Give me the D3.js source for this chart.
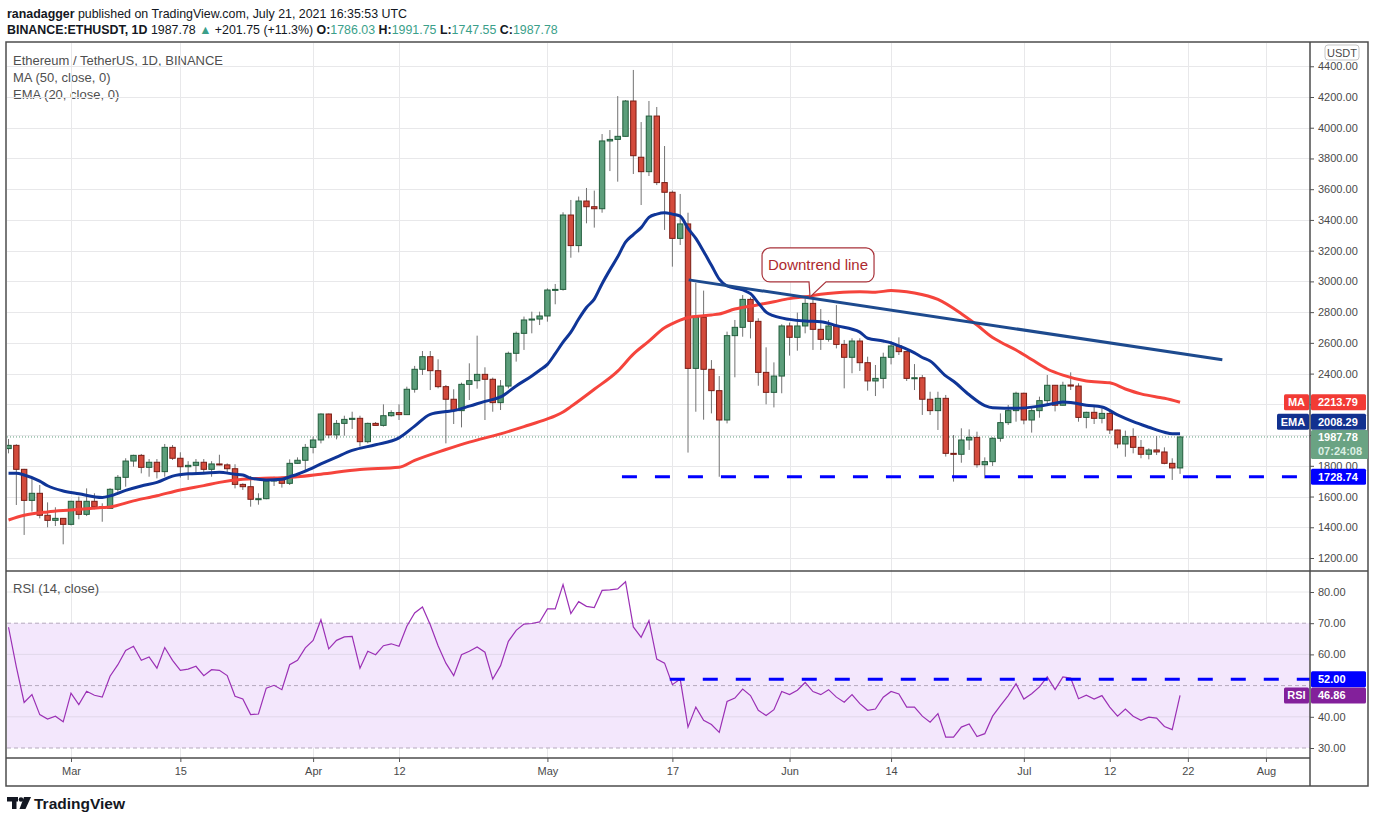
<!DOCTYPE html>
<html>
<head>
<meta charset="utf-8">
<script src="https://cdn.jsdelivr.net/npm/d3@7"></script>
<style>
  body { margin: 0; background: #fff; }
  svg { display: block; font-family: "Liberation Sans", Arial, sans-serif; }
</style>
</head>
<body>
<svg id="chart" width="1376" height="823"></svg>
<script>
// ---- dati (ETH/USDT 1D, 21 feb - 21 lug 2021) ----
const startDay = "2021-02-21";

const opens = [1912,1933,1777,1575,1621,1478,1445,1458,
  1419,1569,1484,1569,1534,1523,1647,1725,1831,1868,1790,1823,1762,1920,1849,1794,1803,1823,1777,1812,1806,1781,1679,1664,1582,1586,1701,1712,1686,1816,1836,
  1920,1968,2137,2001,2076,2102,2109,1957,2076,2063,2126,2146,2133,2298,2428,2510,2419,2315,2233,2159,2330,2354,2395,2363,2211,2319,2532,2662,2749,2755,
  2775,2944,2948,3432,3233,3523,3486,3473,3914,3924,3944,4174,3808,3714,4076,3643,3580,3280,3374,2434,2766,2428,2289,2098,2647,2701,2883,2740,2408,2278,2384,
  2710,2636,2710,2857,2688,2623,2710,2590,2506,2612,2471,2352,2369,2506,2580,2543,2369,2373,2233,2159,2239,1881,1875,1968,1985,1807,1827,1979,2081,2159,
  2272,2098,2159,2224,2324,2194,2326,2319,2115,2148,2109,2141,2033,1942,1990,1920,1875,1903,1890,1816,1786.03];

const highs = [1974,1940,1780,1714,1675,1562,1530,1460,
  1572,1599,1653,1621,1556,1655,1740,1849,1872,1877,1844,1844,1942,1935,1888,1830,1844,1844,1830,1872,1816,1810,1686,1734,1621,1725,1729,1729,1842,1855,1942,
  1990,2141,2140,2098,2126,2152,2126,2081,2085,2200,2161,2200,2315,2450,2547,2547,2493,2326,2298,2341,2467,2647,2441,2374,2358,2543,2673,2771,2803,2803,
  2955,2983,3450,3530,3552,3608,3591,3959,3985,4206,4180,4376,4037,4174,4135,3881,3591,3569,3447,2990,2940,2488,2384,2673,2749,2911,2896,2760,2571,2473,2721,
  2732,2797,2890,2890,2820,2749,2846,2619,2630,2630,2510,2456,2536,2612,2636,2545,2462,2391,2282,2282,2261,2000,2044,2037,2022,1855,1985,2141,2196,2282,
  2276,2185,2250,2391,2326,2347,2408,2337,2152,2196,2174,2163,2035,2029,2044,1968,1914,1994,1920,1849,1991.75];

const lows = [1881,1545,1350,1502,1458,1400,1408,1289,
  1412,1452,1473,1517,1436,1520,1632,1664,1794,1751,1729,1718,1729,1838,1723,1708,1740,1751,1729,1803,1751,1653,1643,1534,1547,1582,1669,1658,1675,1812,1762,
  1881,1946,1979,1972,1996,2040,1925,1946,2063,2055,2120,2098,2133,2276,2391,2293,2304,1946,2072,2050,2228,2302,2098,2152,2163,2304,2478,2554,2662,2716,
  2738,2851,2940,3154,3189,3378,3350,3447,3718,3649,3942,3699,3497,3686,3627,3335,3096,3237,1886,2152,2100,2141,1728.74,2076,2376,2640,2629,2321,2200,2180,2272,
  2517,2549,2662,2554,2554,2608,2564,2304,2402,2417,2289,2254,2304,2460,2521,2352,2293,2131,2131,2033,1860,1697,1820,1903,1788,1718,1799,1957,2066,2087,
  2070,2016,2113,2189,2154,2192,2293,2087,2044,2072,2076,2007,1914,1859,1881,1849,1842,1870,1810,1708,1747.55];

const closes = [1933,1777,1575,1621,1478,1445,1458,1419,
  1569,1484,1569,1534,1523,1647,1725,1831,1868,1790,1823,1762,1920,1849,1794,1803,1823,1777,1812,1806,1781,1679,1664,1582,1586,1701,1712,1686,1816,1836,1920,
  1968,2137,2001,2076,2102,2109,1957,2076,2063,2126,2146,2133,2298,2428,2510,2419,2315,2233,2159,2330,2354,2395,2363,2211,2319,2532,2662,2749,2755,2775,
  2944,2948,3432,3233,3523,3486,3473,3914,3924,3944,4174,3818,3714,4076,3643,3580,3280,3374,2434,2766,2428,2289,2098,2647,2701,2883,2740,2408,2278,2384,2710,
  2636,2710,2857,2688,2623,2710,2590,2506,2612,2471,2352,2369,2506,2580,2543,2369,2373,2233,2159,2239,1881,1875,1968,1985,1807,1827,1979,2081,2159,2272,
  2098,2159,2224,2324,2194,2324,2319,2115,2148,2109,2141,2033,1942,1990,1920,1875,1903,1890,1816,1786.03,1987.78];

const rsiValues = [68.7,56,44.6,47.1,40.7,39.3,40.2,38.4,
  47.6,43.9,48.2,46.9,46.3,53,56.7,61.3,62.6,58.1,59.2,55.6,62.2,58.1,54.9,55.3,56.2,53.2,55.1,54.9,53.2,46.6,45.7,40.7,40.9,49.2,50.1,48.7,56.7,58.1,62.1,
  64.5,71.1,61.8,64.5,65.6,65.8,55.6,61,59.9,62.8,63.4,62.6,69,73.3,75.2,69.5,62.8,57.2,53.2,59.9,61,62.4,60.7,52.1,56.4,64.2,67.7,69.7,69.9,70.4,
  74.6,74.6,82.4,73.1,76.9,75.4,75,80.5,80.7,81,83.3,68.8,65.5,70.8,58.5,57.2,50.3,52.1,36.7,43.1,38.9,37.5,35,44.9,46,48.9,46.8,42.1,40.4,42.3,48.1,
  47.1,48.5,51,48.1,47.1,48.7,46.3,44.7,47.1,44.2,42.1,42.5,46.3,48.1,47.3,43.1,43.1,40.2,38.3,41,33.5,33.5,36.7,37.7,33.7,34.6,40.2,43.6,46.8,50.6,
  45.7,47.4,49.6,52.8,48.7,52.8,52.4,45.8,46.9,45.7,46.8,43.1,40.2,42.5,40.2,38.9,39.9,39.6,36.9,35.9,46.86];

const emaPoints = [["2021-02-21",1751],["2021-02-22",1751],["2021-02-23",1740],["2021-02-25",1700],["2021-02-26",1670],
  ["2021-02-28",1636],["2021-03-02",1618],["2021-03-05",1594],["2021-03-06",1604],["2021-03-08",1640],["2021-03-10",1669],
  ["2021-03-12",1692],["2021-03-14",1733],["2021-03-16",1748],["2021-03-18",1752],["2021-03-20",1758],["2021-03-22",1745],
  ["2021-03-23",1740],["2021-03-24",1720],["2021-03-26",1708],["2021-03-28",1712],["2021-03-29",1729],["2021-03-30",1745],
  ["2021-03-31",1765],["2021-04-02",1812],["2021-04-04",1857],["2021-04-06",1900],["2021-04-09",1937],["2021-04-12",1982],
  ["2021-04-14",2058],["2021-04-16",2135],["2021-04-18",2153],["2021-04-19",2159],["2021-04-21",2188],["2021-04-23",2219],
  ["2021-04-25",2248],["2021-04-27",2320],["2021-04-29",2385],["2021-04-30",2422],["2021-05-01",2460],["2021-05-02",2530],
  ["2021-05-03",2605],["2021-05-04",2670],["2021-05-05",2755],["2021-05-06",2830],["2021-05-07",2885],["2021-05-08",2985],
  ["2021-05-09",3075],["2021-05-10",3160],["2021-05-11",3255],["2021-05-12",3305],["2021-05-13",3350],["2021-05-14",3417],
  ["2021-05-15",3438],["2021-05-16",3447],["2021-05-17",3438],["2021-05-18",3425],["2021-05-19",3345],["2021-05-20",3280],
  ["2021-05-21",3195],["2021-05-22",3105],["2021-05-23",3015],["2021-05-24",2970],["2021-05-26",2945],["2021-05-27",2920],
  ["2021-05-28",2860],["2021-05-29",2800],["2021-05-30",2775],["2021-06-01",2753],["2021-06-03",2742],["2021-06-05",2738],
  ["2021-06-07",2712],["2021-06-10",2670],["2021-06-11",2630],["2021-06-13",2612],["2021-06-14",2600],["2021-06-15",2580],
  ["2021-06-16",2560],["2021-06-17",2535],["2021-06-18",2505],["2021-06-19",2482],["2021-06-21",2385],["2021-06-22",2350],
  ["2021-06-24",2262],["2021-06-26",2192],["2021-06-27",2178],["2021-06-30",2174],["2021-07-03",2189],["2021-07-05",2207],
  ["2021-07-06",2215],["2021-07-07",2212],["2021-07-09",2194],["2021-07-11",2183],["2021-07-13",2131],["2021-07-15",2087],
  ["2021-07-17",2051],["2021-07-19",2018],["2021-07-20",2008],["2021-07-21",2008.29]];

const maPoints = [["2021-02-21",1447],["2021-02-23",1478],["2021-02-26",1500],["2021-03-01",1512],["2021-03-05",1528],
  ["2021-03-06",1532],["2021-03-09",1572],["2021-03-12",1605],["2021-03-15",1643],["2021-03-18",1671],["2021-03-20",1692],
  ["2021-03-23",1712],["2021-03-25",1718],["2021-03-28",1723],["2021-03-30",1728],["2021-04-02",1745],["2021-04-07",1776],
  ["2021-04-12",1790],["2021-04-14",1835],["2021-04-18",1906],["2021-04-21",1954],["2021-04-25",2008],["2021-04-28",2055],
  ["2021-05-01",2105],["2021-05-02",2125],["2021-05-03",2150],["2021-05-04",2185],["2021-05-07",2298],["2021-05-10",2416],
  ["2021-05-12",2527],["2021-05-14",2611],["2021-05-16",2698],["2021-05-17",2725],["2021-05-18",2748],["2021-05-19",2765],
  ["2021-05-21",2776],["2021-05-22",2782],["2021-05-23",2788],["2021-05-25",2820],["2021-05-28",2848],["2021-05-30",2868],
  ["2021-06-01",2888],["2021-06-03",2900],["2021-06-05",2916],["2021-06-07",2926],["2021-06-10",2933],["2021-06-12",2930],
  ["2021-06-14",2940],["2021-06-15",2938],["2021-06-17",2925],["2021-06-20",2883],["2021-06-23",2790],["2021-06-25",2716],
  ["2021-06-27",2635],["2021-06-28",2606],["2021-06-30",2554],["2021-07-02",2492],["2021-07-04",2430],["2021-07-06",2390],
  ["2021-07-09",2352],["2021-07-12",2340],["2021-07-14",2300],["2021-07-16",2268],["2021-07-18",2248],["2021-07-19",2240],
  ["2021-07-21",2213.79]];

const trendPoints = [["2021-05-19T02:00Z",3010],["2021-07-26T10:00Z",2490]];
const supportLevel = 1728.74, supportStart = "2021-05-10T13:00Z";
const rsiLevel = 52, rsiLevelStart = "2021-05-16T16:00Z";
const calloutAt = ["2021-06-03T15:00Z", 2899];

const priceTicks = [1200,1400,1600,1800,2000,2200,2400,2600,2800,3000,3200,3400,3600,3800,4000,4200,4400];
const rsiTicks = [30,40,60,70,80];
const timeTicks = ["2021-03-01","2021-03-15","2021-04-01","2021-04-12","2021-05-01","2021-05-17",
  "2021-06-01","2021-06-14","2021-07-01","2021-07-12","2021-07-22","2021-08-01"];
const timeLabels = ["Mar","15","Apr","12","May","17","Jun","14","Jul","12","22","Aug"];

// ---- geometria ----
const W = 1376, H = 823;
const left = 7, right = 1310;
const mainTop = 43, mainBottom = 571, rsiBottom = 758;
const dayMs = 864e5;

const parseDay = d3.utcParse("%Y-%m-%d");
const t = s => s.length > 10 ? d3.isoParse(s) : parseDay(s);
const mar1 = parseDay("2021-03-01");

const x = d3.scaleUtc()
  .domain([new Date(+mar1 - 8.195 * dayMs), new Date(+mar1 + 158.64 * dayMs)])
  .range([left, right]);
const y = d3.scaleLinear().domain([1200, 4200]).range([558, 97]);
const yR = d3.scaleLinear().domain([30, 80]).range([748, 592]);

const days = d3.utcDay.range(parseDay(startDay), d3.utcDay.offset(parseDay(startDay), closes.length));
const candles = days.map((d, i) => ({ date: d, o: opens[i], h: highs[i], l: lows[i], c: closes[i] }));

const svg = d3.select("#chart");
const defs = svg.append("defs");
defs.append("clipPath").attr("id", "clipMain").append("rect")
  .attr("x", left).attr("y", mainTop).attr("width", right - left).attr("height", mainBottom - mainTop - 1);
defs.append("clipPath").attr("id", "clipRsi").append("rect")
  .attr("x", left).attr("y", mainBottom + 1).attr("width", right - left).attr("height", rsiBottom - mainBottom - 1);

svg.append("rect").attr("width", W).attr("height", H).attr("fill", "#fff");

/*
* Intestazione in alto e legenda
*/
function drawHeader() {
  const h1 = svg.append("text").attr("x", 7).attr("y", 18).attr("font-size", 12.4).attr("fill", "#131722");
  h1.append("tspan").attr("font-weight", "bold").text("ranadagger");
  h1.append("tspan").text(" published on TradingView.com, July 21, 2021 16:35:53 UTC");

  const teal = "#3b9f8a";
  const h2 = svg.append("text").attr("x", 7).attr("y", 34).attr("font-size", 12.4).attr("fill", "#131722");
  h2.append("tspan").attr("font-weight", "bold").text("BINANCE:ETHUSDT, 1D");
  h2.append("tspan").text("  1987.78 ");
  h2.append("tspan").attr("fill", teal).text("▲");
  h2.append("tspan").text(" +201.75 (+11.3%) ");
  [["O:", "1786.03"], ["H:", "1991.75"], ["L:", "1747.55"], ["C:", "1987.78"]].forEach(([k, v], i) => {
    h2.append("tspan").attr("font-weight", "bold").text((i ? " " : "") + k);
    h2.append("tspan").attr("fill", teal).text(v);
  });

  const legend = ["Ethereum / TetherUS, 1D, BINANCE", "MA (50, close, 0)", "EMA (20, close, 0)"];
  legend.forEach((s, i) => {
    svg.append("text").attr("x", 13).attr("y", 65 + i * 17).attr("font-size", 13)
      .attr("fill", "#4f4f4f").text(s);
  });
}

/*
* Griglia verticale e orizzontale
*/
function drawGrid() {
  const g = svg.append("g").attr("stroke", "#e8e8ea").attr("stroke-width", 1);
  timeTicks.forEach(s => {
    const xx = Math.round(x(t(s))) + 0.5;
    g.append("line").attr("x1", xx).attr("x2", xx).attr("y1", mainTop).attr("y2", rsiBottom);
  });
  priceTicks.forEach(p => {
    const yy = Math.round(y(p)) + 0.5;
    if (yy < mainTop || yy > mainBottom) return;
    g.append("line").attr("x1", left).attr("x2", right).attr("y1", yy).attr("y2", yy);
  });
}

/*
* Pannello RSI
*/
function drawRsi() {
  const g = svg.append("g").attr("clip-path", "url(#clipRsi)");
  g.append("rect").attr("x", left).attr("width", right - left)
    .attr("y", yR(70)).attr("height", yR(30) - yR(70)).attr("fill", "#f3e7fc");
  [80, 60, 40].forEach(v => {
    g.append("line").attr("x1", left).attr("x2", right).attr("y1", yR(v)).attr("y2", yR(v))
      .attr("stroke", v === 80 ? "#e8e8ea" : "#e1d8ea");
  });
  [70, 50, 30].forEach(v => {
    g.append("line").attr("x1", left).attr("x2", right).attr("y1", yR(v)).attr("y2", yR(v))
      .attr("stroke", "#b4a9bd").attr("stroke-dasharray", "4,3");
  });

  const line = d3.line().x(d => x(d[0])).y(d => yR(d[1]));
  g.append("path").datum(days.map((d, i) => [d, rsiValues[i]]))
    .attr("d", line).attr("fill", "none").attr("stroke", "#9b30b5").attr("stroke-width", 1.2);

  g.append("line").attr("x1", x(t(rsiLevelStart))).attr("x2", right)
    .attr("y1", yR(rsiLevel)).attr("y2", yR(rsiLevel))
    .attr("stroke", "#0000ff").attr("stroke-width", 3).attr("stroke-dasharray", "15,18");

  svg.append("text").attr("x", 13).attr("y", 593).attr("font-size", 13).attr("fill", "#4f4f4f")
    .text("RSI (14, close)");
}

/*
* Candele, medie mobili, linee di tendenza
*/
function drawPrice() {
  const g = svg.append("g").attr("clip-path", "url(#clipMain)");
  const bw = 5.4;

  g.append("line").attr("x1", left).attr("x2", right)
    .attr("y1", y(closes[closes.length - 1])).attr("y2", y(closes[closes.length - 1]))
    .attr("stroke", "#5f9c7c").attr("stroke-dasharray", "1,2");

  const c = g.selectAll("g.candle").data(candles).enter().append("g").attr("class", "candle");
  c.append("line")
    .attr("x1", d => x(d.date)).attr("x2", d => x(d.date))
    .attr("y1", d => y(d.h)).attr("y2", d => y(d.l))
    .attr("stroke", "#737373").attr("stroke-width", 1);
  c.append("rect")
    .attr("x", d => x(d.date) - bw / 2).attr("width", bw)
    .attr("y", d => y(Math.max(d.o, d.c)))
    .attr("height", d => Math.max(1, Math.abs(y(d.o) - y(d.c))))
    .attr("fill", d => d.c >= d.o ? "#5c9e7b" : "#d44b3c")
    .attr("stroke", d => d.c >= d.o ? "#225d3c" : "#7a1d15")
    .attr("stroke-width", 1);

  const curve = d3.line().x(d => x(t(d[0]))).y(d => y(d[1])).curve(d3.curveMonotoneX);
  g.append("path").datum(maPoints).attr("d", curve)
    .attr("fill", "none").attr("stroke", "#f5443c").attr("stroke-width", 3);
  g.append("path").datum(emaPoints).attr("d", curve)
    .attr("fill", "none").attr("stroke", "#0f3597").attr("stroke-width", 3);

  g.append("path").datum(trendPoints).attr("d", d3.line().x(d => x(t(d[0]))).y(d => y(d[1])))
    .attr("fill", "none").attr("stroke", "#1d4a8e").attr("stroke-width", 3);

  g.append("line").attr("x1", x(t(supportStart))).attr("x2", right)
    .attr("y1", y(supportLevel)).attr("y2", y(supportLevel))
    .attr("stroke", "#0000ff").attr("stroke-width", 3).attr("stroke-dasharray", "15,18");

  // fumetto "Downtrend line"
  const tx = x(t(calloutAt[0])), ty = y(calloutAt[1]);
  const bx0 = tx - 48, bx1 = tx + 64, by0 = ty - 49, by1 = ty - 15, r = 8;
  const p = d3.path();
  p.moveTo(bx0 + r, by0);
  p.lineTo(bx1 - r, by0); p.arcTo(bx1, by0, bx1, by0 + r, r);
  p.lineTo(bx1, by1 - r); p.arcTo(bx1, by1, bx1 - r, by1, r);
  p.lineTo(tx + 16, by1); p.lineTo(tx, ty); p.lineTo(tx - 1, by1);
  p.lineTo(bx0 + r, by1); p.arcTo(bx0, by1, bx0, by1 - r, r);
  p.lineTo(bx0, by0 + r); p.arcTo(bx0, by0, bx0 + r, by0, r);
  p.closePath();
  svg.append("path").attr("d", p.toString()).attr("fill", "#fff")
    .attr("stroke", "#a8323a").attr("stroke-width", 1.2);
  svg.append("text").attr("x", (bx0 + bx1) / 2).attr("y", (by0 + by1) / 2 + 5)
    .attr("text-anchor", "middle").attr("font-size", 15).attr("fill", "#ad2a2f")
    .text("Downtrend line");
}

/*
* Assi e cornice
*/
function drawAxes() {
  const style = g => {
    g.select(".domain").remove();
    g.selectAll(".tick line").attr("stroke", "#555");
    g.selectAll(".tick text").attr("fill", "#4a4a4a").attr("font-size", 11)
      .attr("font-family", "Liberation Sans, Arial, sans-serif");
  };
  svg.append("g").attr("transform", `translate(${right},0)`)
    .call(d3.axisRight(y).tickValues(priceTicks).tickFormat(d3.format(".2f")).tickSize(4).tickPadding(4))
    .call(style);
  svg.append("g").attr("transform", `translate(${right},0)`)
    .call(d3.axisRight(yR).tickValues(rsiTicks).tickFormat(d3.format(".2f")).tickSize(4).tickPadding(4))
    .call(style);
  svg.append("g").attr("transform", `translate(0,${rsiBottom})`)
    .call(d3.axisBottom(x).tickValues(timeTicks.map(t)).tickFormat((d, i) => timeLabels[i]).tickSize(4).tickPadding(5))
    .call(style);

  const f = svg.append("g").attr("stroke", "#4d4d4d").attr("stroke-width", 1.5).attr("fill", "none");
  f.append("rect").attr("x", 6).attr("y", 42).attr("width", 1362).attr("height", 744);
  f.append("line").attr("x1", right).attr("x2", right).attr("y1", 42).attr("y2", 786);
  f.append("line").attr("x1", 6).attr("x2", 1368).attr("y1", mainBottom).attr("y2", mainBottom);
  f.append("line").attr("x1", 6).attr("x2", right).attr("y1", rsiBottom).attr("y2", rsiBottom);

  // etichetta valuta
  svg.append("rect").attr("x", 1325).attr("y", 45).attr("width", 34).attr("height", 15).attr("rx", 3)
    .attr("fill", "#fff").attr("stroke", "#c5c5c5");
  svg.append("text").attr("x", 1342).attr("y", 56.5).attr("text-anchor", "middle")
    .attr("font-size", 11).attr("fill", "#4a4a4a").text("USDT");
}

/*
* Etichette colorate sull'asse dei prezzi
*/
function tag(yc, h, fill, value, name, nameW) {
  const g = svg.append("g");
  if (name) {
    g.append("rect").attr("x", right - nameW - 1).attr("y", yc - h / 2).attr("width", nameW).attr("height", h)
      .attr("fill", fill).attr("rx", 1.5);
    g.append("text").attr("x", right - 1 - nameW / 2).attr("y", yc + 4).attr("text-anchor", "middle")
      .attr("font-size", 11).attr("font-weight", "bold").attr("fill", "#fff").text(name);
  }
  g.append("rect").attr("x", right + 1).attr("y", yc - h / 2).attr("width", 55).attr("height", h)
    .attr("fill", fill).attr("rx", 1.5);
  g.append("text").attr("x", right + 8).attr("y", yc + 4)
    .attr("font-size", 11).attr("font-weight", "bold").attr("fill", "#fff").text(value);
  return g;
}

function drawTags() {
  const ma = maPoints[maPoints.length - 1][1], ema = emaPoints[emaPoints.length - 1][1];
  const last = closes[closes.length - 1];
  tag(y(ma), 16, "#f23b35", d3.format(".2f")(ma), "MA", 25);
  tag(y(ema) - 12, 16, "#12318f", d3.format(".2f")(ema), "EMA", 32);

  const ly = y(last);
  svg.append("rect").attr("x", right + 1).attr("y", ly - 7).attr("width", 57).attr("height", 29)
    .attr("fill", "#6aa383").attr("rx", 1.5);
  svg.append("text").attr("x", right + 8).attr("y", ly + 4).attr("font-size", 11)
    .attr("font-weight", "bold").attr("fill", "#fff").text(d3.format(".2f")(last));
  svg.append("text").attr("x", right + 8).attr("y", ly + 18).attr("font-size", 11)
    .attr("font-weight", "bold").attr("fill", "#dcefe3").text("07:24:08");

  tag(y(supportLevel), 16, "#0000ff", d3.format(".2f")(supportLevel));
  tag(yR(rsiLevel), 16, "#0000ff", d3.format(".2f")(rsiLevel));
  tag(yR(rsiValues[rsiValues.length - 1]), 16, "#83209b", d3.format(".2f")(rsiValues[rsiValues.length - 1]), "RSI", 25);
}

/*
* Logo TradingView in basso
*/
function drawLogo() {
  const g = svg.append("g").attr("fill", "#131722");
  g.append("rect").attr("x", 7).attr("y", 797).attr("width", 11).attr("height", 4.5);
  g.append("rect").attr("x", 12).attr("y", 797).attr("width", 4.5).attr("height", 12);
  g.append("circle").attr("cx", 21).attr("cy", 799.5).attr("r", 2.3);
  g.append("path").attr("d", "M24,797 L31,797 L25.5,809 L19.5,809 Z");
  g.append("text").attr("x", 34).attr("y", 809).attr("font-size", 15.5).attr("font-weight", "bold")
    .text("TradingView");
}

drawHeader();
drawGrid();
drawRsi();
drawPrice();
drawAxes();
drawTags();
drawLogo();
</script>
</body>
</html>
